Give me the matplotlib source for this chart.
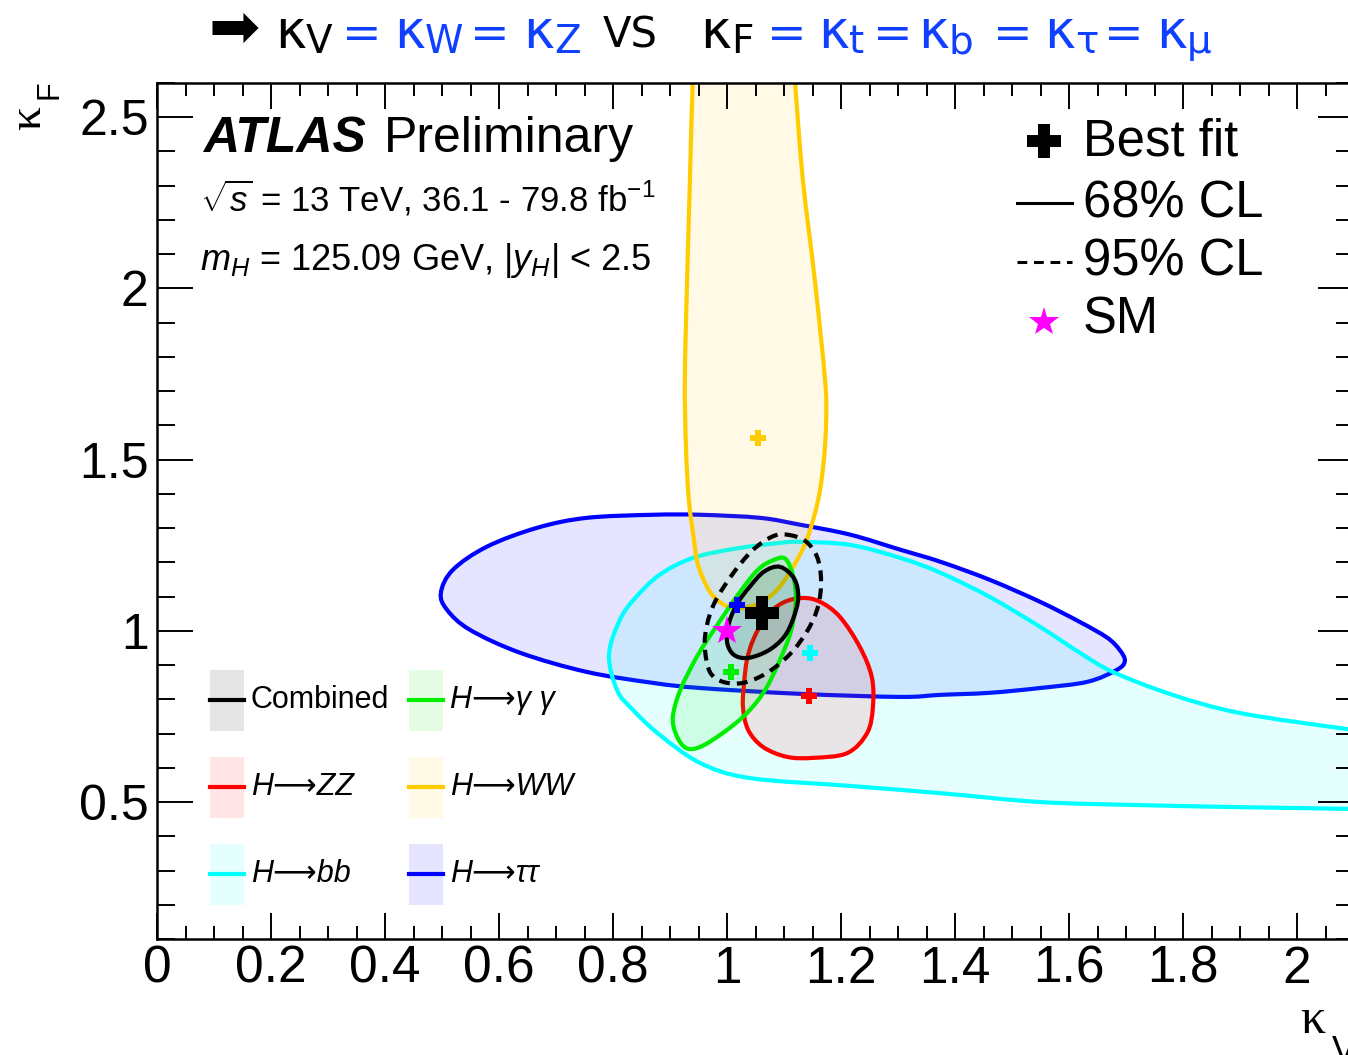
import numpy as np
import matplotlib
matplotlib.use('Agg')
import matplotlib.pyplot as plt
from matplotlib.path import Path
from matplotlib.patches import PathPatch, Rectangle
from matplotlib.lines import Line2D
from matplotlib.colors import to_rgba
from matplotlib.ticker import MultipleLocator, FuncFormatter

plt.rcParams['font.family'] = ['Liberation Sans', 'DejaVu Sans']
plt.rcParams['mathtext.fontset'] = 'custom'
plt.rcParams['mathtext.rm'] = 'Liberation Sans'
plt.rcParams['mathtext.it'] = 'Liberation Sans:italic'
plt.rcParams['mathtext.bf'] = 'Liberation Sans:bold'

# 68% CL contours in the (kappa_V, kappa_F) plane
tautau_kv = [0.498, 0.519, 0.579, 0.667, 0.754, 0.870, 0.953, 1.058, 1.128, 1.216, 1.304,
             1.374, 1.461, 1.549, 1.619, 1.667, 1.689, 1.698, 1.684, 1.632, 1.549, 1.461,
             1.374, 1.304, 1.128, 0.953, 0.870, 0.754, 0.637, 0.549, 0.509]
tautau_kf = [1.111, 1.178, 1.246, 1.301, 1.330, 1.339, 1.339, 1.330, 1.310, 1.281, 1.237,
             1.202, 1.149, 1.085, 1.026, 0.980, 0.944, 0.912, 0.886, 0.851, 0.833, 0.819,
             0.813, 0.807, 0.816, 0.833, 0.848, 0.880, 0.936, 1.003, 1.061]

bb_kv = [0.793, 0.812, 0.839, 0.882, 0.940, 1.014, 1.093, 1.128, 1.216, 1.304, 1.374, 1.461,
         1.549, 1.619, 1.677, 1.782, 1.900, 2.089, 2.216, 2.250, 2.216, 2.089, 1.900, 1.725,
         1.549, 1.374, 1.216, 1.040, 0.953, 0.882, 0.835, 0.807]
bb_kf = [0.930, 1.032, 1.096, 1.164, 1.213, 1.240, 1.257, 1.260, 1.251, 1.213, 1.170, 1.099,
         1.012, 0.936, 0.880, 0.813, 0.760, 0.713, 0.687, 0.580, 0.474, 0.480, 0.485, 0.491,
         0.500, 0.526, 0.547, 0.570, 0.614, 0.696, 0.769, 0.827]

ww_kv = [0.947, 0.940, 0.935, 0.930, 0.926, 0.928, 0.933, 0.942, 0.949, 0.970, 0.998, 1.028,
         1.058, 1.088, 1.116, 1.140, 1.160, 1.170, 1.174, 1.172, 1.154, 1.133, 1.119, 1.111]
ww_kf = [2.787, 2.611, 2.319, 2.026, 1.734, 1.538, 1.383, 1.266, 1.193, 1.114, 1.073, 1.067,
         1.082, 1.120, 1.187, 1.266, 1.383, 1.500, 1.617, 1.734, 2.026, 2.319, 2.611, 2.787]

zz_kv = [1.046, 1.068, 1.098, 1.132, 1.163, 1.198, 1.233, 1.254, 1.256, 1.246, 1.211, 1.151,
         1.105, 1.063, 1.037, 1.028, 1.030, 1.035]
zz_kf = [0.974, 1.041, 1.082, 1.096, 1.085, 1.041, 0.953, 0.865, 0.778, 0.702, 0.643, 0.629,
         0.632, 0.661, 0.711, 0.778, 0.848, 0.915]

yy_kv = [1.079, 1.102, 1.116, 1.121, 1.116, 1.104, 1.070, 1.035, 0.993, 0.953, 0.928, 0.911,
         0.905, 0.918, 0.947, 0.982, 1.023, 1.054]
yy_kf = [1.205, 1.211, 1.161, 1.096, 1.026, 0.959, 0.836, 0.760, 0.702, 0.661, 0.658, 0.696,
         0.749, 0.827, 0.924, 1.015, 1.114, 1.178]

comb68_kv = [1.093, 1.118, 1.125, 1.116, 1.100, 1.072, 1.037, 1.012, 1.000, 1.004, 1.019,
             1.040, 1.065]
comb68_kf = [1.187, 1.152, 1.096, 1.035, 0.982, 0.942, 0.921, 0.930, 0.968, 1.026, 1.082,
             1.129, 1.173]

comb95_kv = [1.105, 1.137, 1.158, 1.165, 1.160, 1.142, 1.111, 1.070, 1.028, 0.993, 0.970,
             0.961, 0.965, 0.979, 1.009, 1.044, 1.079]
comb95_kf = [1.281, 1.263, 1.216, 1.149, 1.073, 1.003, 0.933, 0.877, 0.848, 0.851, 0.880,
             0.953, 1.018, 1.085, 1.164, 1.234, 1.275]

# best-fit points: Combined, yy, ZZ, WW, bb, tautau
channels = ['Combined', 'H\u27f6\u03b3 \u03b3', 'H\u27f6ZZ', 'H\u27f6WW', 'H\u27f6bb',
            'H\u27f6\u03c4\u03c4']
colors = ['black', '#00ee00', '#ff0000', '#ffcc00', '#00ffff', '#0000ff']
best_kv = [1.061, 1.007, 1.143, 1.054, 1.146, 1.018]
best_kf = [1.052, 0.881, 0.810, 1.564, 0.935, 1.076]
sm_kv, sm_kf = 1.0, 1.0

W, H = 1348, 1055


def P(px, py):
    return px / W, 1 - py / H


def smooth_path(xs, ys):
    # closed Catmull-Rom curve through the points, as cubic Bezier segments
    pts = np.column_stack([xs, ys])
    n = len(pts)
    verts = [pts[0]]
    codes = [Path.MOVETO]
    for i in range(n):
        p0, p1, p2, p3 = pts[i - 1], pts[i], pts[(i + 1) % n], pts[(i + 2) % n]
        verts += [p1 + (p2 - p0) / 6., p2 - (p3 - p1) / 6., p2]
        codes += [Path.CURVE4] * 3
    return Path(verts, codes)


fig = plt.figure(figsize=(W / 100, H / 100), dpi=100)
ax = fig.add_axes([157 / W, 1 - 939 / H, (1354 - 157) / W, (939 - 83) / H])
ax.set_xlim(0, 2.1)
ax.set_ylim(0.1, 2.6)

contours = [(tautau_kv, tautau_kf, colors[5]),
            (bb_kv, bb_kf, colors[4]),
            (ww_kv, ww_kf, colors[3]),
            (zz_kv, zz_kf, colors[2]),
            (yy_kv, yy_kf, colors[1]),
            (comb68_kv, comb68_kf, colors[0])]
for kv, kf, c in contours:
    ax.add_patch(PathPatch(smooth_path(kv, kf), facecolor=to_rgba(c, 0.1),
                           edgecolor=c, lw=3))
ax.add_patch(PathPatch(smooth_path(comb95_kv, comb95_kf), facecolor='none',
                       edgecolor='black', lw=3, linestyle=(0, (2.6, 1.7))))

for i in range(1, 6):
    ax.plot(best_kv[i], best_kf[i], marker='P', color=colors[i], ms=12, mew=0, zorder=5)
ax.plot(sm_kv, sm_kf, marker='*', color='#ff00ff', ms=22, mew=0, zorder=6)
ax.plot(best_kv[0], best_kf[0], marker='P', color='black', ms=25, mew=0, zorder=7)

# axes styling (ROOT-like)
ax.xaxis.set_major_locator(MultipleLocator(0.2))
ax.xaxis.set_minor_locator(MultipleLocator(0.05))
ax.yaxis.set_major_locator(MultipleLocator(0.5))
ax.yaxis.set_minor_locator(MultipleLocator(0.1))
fmt = FuncFormatter(lambda v, p: '%g' % round(v, 2))
ax.xaxis.set_major_formatter(fmt)
ax.yaxis.set_major_formatter(fmt)
ax.tick_params(which='both', direction='in', top=True, right=True, width=1.4,
               colors='black')
ax.tick_params(axis='x', which='major', length=18.7, pad=4, labelsize=37)
ax.tick_params(axis='x', which='minor', length=9.4)
ax.tick_params(axis='y', which='major', length=26, pad=6, labelsize=36)
ax.tick_params(axis='y', which='minor', length=13)
for s in ax.spines.values():
    s.set_linewidth(1.8)

# axis labels
fig.text(*P(1300, 1033), '\u03ba', fontsize=36, family='Liberation Serif', va='baseline')
fig.text(*P(1332, 1035), 'V', fontsize=26, va='top')
fig.text(*P(29, 118), '\u03ba', fontsize=34, family='Liberation Serif', rotation=90,
         ha='center', va='center')
fig.text(*P(50, 90), 'F', fontsize=22, rotation=90, ha='center', va='center')

# ATLAS label
fig.text(*P(203, 152), 'ATLAS', fontsize=36, fontweight='bold', fontstyle='italic',
         va='baseline')
fig.text(*P(384, 152), 'Preliminary', fontsize=36, va='baseline')
fig.text(*P(200, 212), r'$\sqrt{s}$ = 13 TeV, 36.1 - 79.8 fb$^{-1}$', fontsize=25,
         va='baseline')
fig.text(*P(200, 270), r'$m_{H}$ = 125.09 GeV, |$y_{H}$| < 2.5', fontsize=26,
         va='baseline')

# top-right legend
fig.add_artist(Line2D([P(1044, 141)[0]], [P(1044, 141)[1]], marker='P', color='black',
                      ms=24, mew=0, transform=fig.transFigure))
fig.add_artist(Line2D([P(1017, 0)[0], P(1072, 0)[0]], [P(0, 203)[1]] * 2, color='black',
                      lw=2.2, transform=fig.transFigure))
fig.add_artist(Line2D([P(1017, 0)[0], P(1072, 0)[0]], [P(0, 262)[1]] * 2, color='black',
                      lw=2.2, linestyle=(0, (3.2, 2.2)), transform=fig.transFigure))
fig.add_artist(Line2D([P(1044, 322)[0]], [P(1044, 322)[1]], marker='*', color='#ff00ff',
                      ms=22, mew=0, transform=fig.transFigure))
for txt, yb in zip(['Best fit', '68% CL', '95% CL', 'SM'], [156, 218, 275, 333]):
    fig.text(*P(1083, yb), txt, fontsize=36.5, va='baseline')

# bottom-left legend
col_x = [210, 409]
row_y = [700, 787, 874]
for i, (name, c) in enumerate(zip(channels, colors)):
    bx = col_x[i % 2]
    by = row_y[i // 2]
    x0, y0 = P(bx, by + 30.5)
    fig.add_artist(Rectangle((x0, y0), 34 / W, 61 / H, facecolor=to_rgba(c, 0.1),
                             edgecolor='none', transform=fig.transFigure))
    fig.add_artist(Line2D([bx / W, (bx + 34) / W], [P(0, by)[1]] * 2, color=c, lw=3,
                          transform=fig.transFigure))
    fig.text(*P(bx + 41, by), name, fontsize=22, va='center',
             fontstyle='normal' if i == 0 else 'italic')

# title line above the frame
blue = '#1040ff'
title_pieces = [('\u27a1', 208, 47, 44, 'black'),
                ('\u03ba', 275, 48, 38, 'black'), ('V', 306, 53, 28, 'black'),
                ('=', 342, 48, 34, blue),
                ('\u03ba', 394, 48, 38, blue), ('W', 425, 53, 28, blue),
                ('=', 470, 48, 34, blue),
                ('\u03ba', 523, 48, 38, blue), ('Z', 554, 53, 28, blue),
                ('VS', 603, 48, 30, 'black'),
                ('\u03ba', 700, 48, 38, 'black'), ('F', 731, 53, 28, 'black'),
                ('=', 767, 48, 34, blue),
                ('\u03ba', 818, 48, 38, blue), ('t', 849, 53, 28, blue),
                ('=', 873, 48, 34, blue),
                ('\u03ba', 918, 48, 38, blue), ('b', 949, 53, 28, blue),
                ('=', 993, 48, 34, blue),
                ('\u03ba', 1044, 48, 38, blue), ('\u03c4', 1075, 53, 28, blue),
                ('=', 1104, 48, 34, blue),
                ('\u03ba', 1156, 48, 38, blue), ('\u03bc', 1187, 53, 28, blue)]
for s, px, py, size, c in title_pieces:
    fig.text(*P(px, py), s, fontsize=size, color=c, family='DejaVu Sans',
             ha='left', va='baseline')

fig.savefig('out.png', dpi=100)
